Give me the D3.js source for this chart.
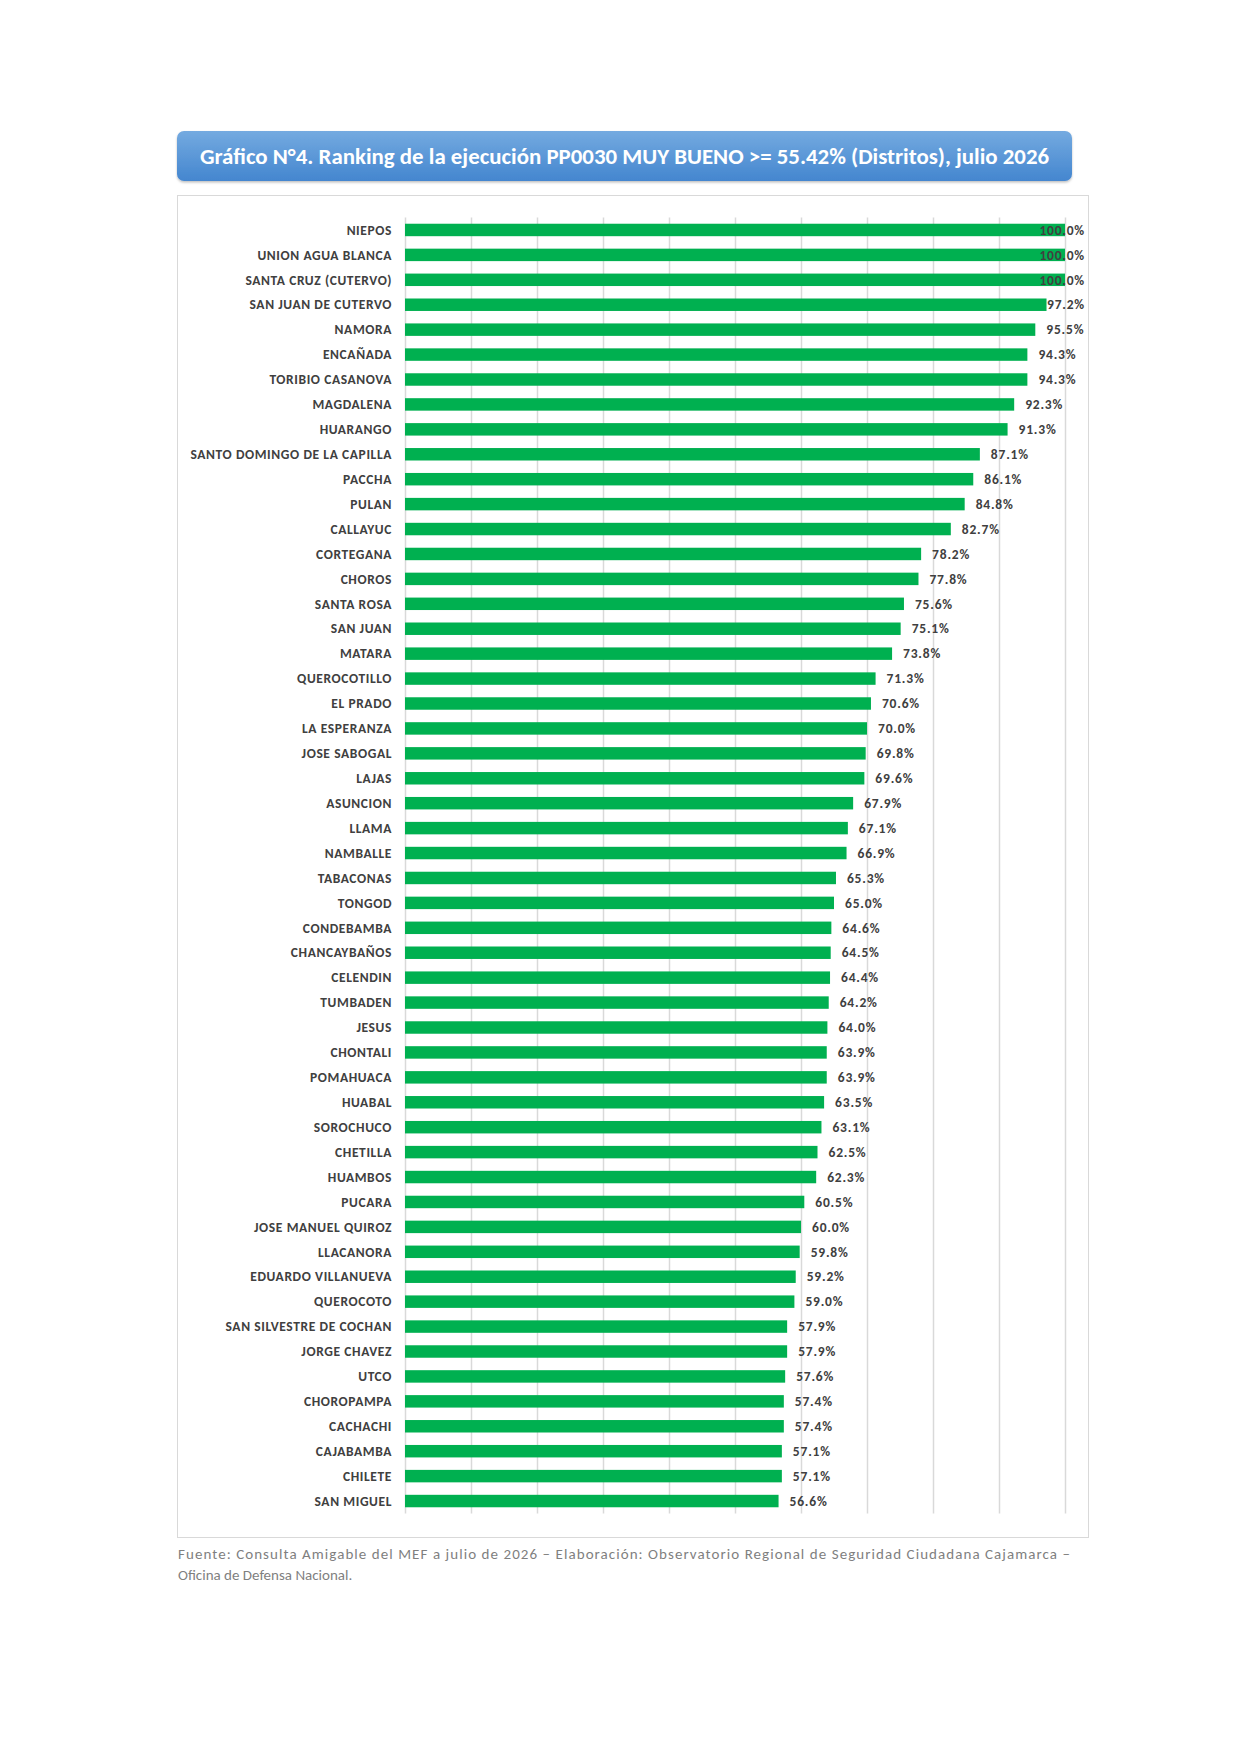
<!DOCTYPE html>
<html>
<head>
<meta charset="utf-8">
<script src="https://cdn.jsdelivr.net/npm/d3@7"></script>
<style>
  html, body { margin: 0; padding: 0; background: #fff; }
  svg { display: block; }
</style>
</head>
<body>
<div id="chart"></div>
<script>
// distritos, ordered as in the ranking
let districts = [
  'NIEPOS', 'UNION AGUA BLANCA', 'SANTA CRUZ (CUTERVO)', 'SAN JUAN DE CUTERVO', 'NAMORA',
  'ENCAÑADA', 'TORIBIO CASANOVA', 'MAGDALENA', 'HUARANGO', 'SANTO DOMINGO DE LA CAPILLA',
  'PACCHA', 'PULAN', 'CALLAYUC', 'CORTEGANA', 'CHOROS', 'SANTA ROSA', 'SAN JUAN', 'MATARA',
  'QUEROCOTILLO', 'EL PRADO', 'LA ESPERANZA', 'JOSE SABOGAL', 'LAJAS', 'ASUNCION', 'LLAMA',
  'NAMBALLE', 'TABACONAS', 'TONGOD', 'CONDEBAMBA', 'CHANCAYBAÑOS', 'CELENDIN', 'TUMBADEN',
  'JESUS', 'CHONTALI', 'POMAHUACA', 'HUABAL', 'SOROCHUCO', 'CHETILLA', 'HUAMBOS', 'PUCARA',
  'JOSE MANUEL QUIROZ', 'LLACANORA', 'EDUARDO VILLANUEVA', 'QUEROCOTO', 'SAN SILVESTRE DE COCHAN',
  'JORGE CHAVEZ', 'UTCO', 'CHOROPAMPA', 'CACHACHI', 'CAJABAMBA', 'CHILETE', 'SAN MIGUEL'
]
// % de ejecucion
let execution = [
  100.0, 100.0, 100.0, 97.2, 95.5,
  94.3, 94.3, 92.3, 91.3, 87.1,
  86.1, 84.8, 82.7, 78.2, 77.8, 75.6, 75.1, 73.8,
  71.3, 70.6, 70.0, 69.8, 69.6, 67.9, 67.1,
  66.9, 65.3, 65.0, 64.6, 64.5, 64.4, 64.2,
  64.0, 63.9, 63.9, 63.5, 63.1, 62.5, 62.3, 60.5,
  60.0, 59.8, 59.2, 59.0, 57.9,
  57.9, 57.6, 57.4, 57.4, 57.1, 57.1, 56.6
]
let gridTicks = [0, 10, 20, 30, 40, 50, 60, 70, 80, 90, 100]

let titleText = 'Gráfico N°4. Ranking de la ejecución PP0030 MUY BUENO >= 55.42% (Distritos), julio 2026'
let noteLines = [
  'Fuente: Consulta Amigable del MEF a julio de 2026 – Elaboración: Observatorio Regional de Seguridad Ciudadana Cajamarca –',
  'Oficina de Defensa Nacional.'
]

let data = districts.map((d, i) => ({ key: d, value: execution[i] }))

let w = 1240,
  h = 1754,
  font = 'Carlito, Calibri, Lato, sans-serif',
  green = '#00b050',
  txtColor = '#404040'

let svg = d3.select('#chart')
  .append('svg')
  .attr('width', w)
  .attr('height', h)

let defs = svg.append('defs')
let grad = defs.append('linearGradient')
  .attr('id', 'titleGrad')
  .attr('x1', 0).attr('y1', 0).attr('x2', 0).attr('y2', 1)
grad.append('stop').attr('offset', '0%').attr('stop-color', '#74aae0')
grad.append('stop').attr('offset', '100%').attr('stop-color', '#4486cf')
let shadow = defs.append('filter').attr('id', 'shadow')
  .attr('x', '-5%').attr('y', '-20%').attr('width', '110%').attr('height', '150%')
shadow.append('feDropShadow')
  .attr('dx', 0).attr('dy', 1.5).attr('stdDeviation', 1.2)
  .attr('flood-color', '#000').attr('flood-opacity', 0.25)

// title box
let box = { x: 177, y: 131, w: 895, h: 50 }
svg.append('rect')
  .attr('x', box.x).attr('y', box.y)
  .attr('width', box.w).attr('height', box.h)
  .attr('rx', 7).attr('ry', 7)
  .attr('fill', 'url(#titleGrad)')
  .attr('filter', 'url(#shadow)')
let title = svg.append('text')
  .attr('x', box.x + box.w / 2)
  .attr('y', box.y + box.h / 2)
  .attr('dy', '0.35em')
  .attr('text-anchor', 'middle')
  .attr('fill', '#fff')
  .style('font-family', font)
  .style('font-weight', 'bold')
  .style('font-size', '22px')
  .text(titleText)
// size it to the width it has in the reference
let tw = title.node().getComputedTextLength()
title.style('font-size', (22 * 850 / tw) + 'px')

// chart frame
let frame = { x: 177, y: 195, w: 911, h: 1342 }
svg.append('rect')
  .attr('x', frame.x + 0.5).attr('y', frame.y + 0.5)
  .attr('width', frame.w).attr('height', frame.h)
  .attr('fill', '#fff')
  .attr('stroke', '#d9d9d9')
  .attr('stroke-width', 1)

let x = d3.scaleLinear().domain([0, 100]).range([405, 1065])
let y = d3.scaleBand()
  .domain(districts)
  .range([217.5, 1513.5])
  .paddingInner(0.5)
  .paddingOuter(0.25)

// gridlines
svg.append('g')
  .selectAll('line')
  .data(gridTicks).enter().append('line')
  .attr('x1', d => Math.round(x(d)) + 0.5)
  .attr('x2', d => Math.round(x(d)) + 0.5)
  .attr('y1', y.range()[0])
  .attr('y2', y.range()[1])
  .attr('stroke', '#d9d9d9')
  .attr('stroke-width', 1.5)

// bars
svg.append('g')
  .selectAll('rect')
  .data(data).enter().append('rect')
  .attr('x', x(0))
  .attr('y', d => y(d.key))
  .attr('width', d => x(d.value) - x(0))
  .attr('height', y.bandwidth())
  .attr('fill', green)

// category labels
svg.append('g')
  .selectAll('text')
  .data(data).enter().append('text')
  .attr('x', 392)
  .attr('y', d => y(d.key) + y.bandwidth() / 2)
  .attr('dy', '0.35em')
  .attr('text-anchor', 'end')
  .attr('fill', txtColor)
  .style('font-family', font)
  .style('font-weight', 'bold')
  .style('font-size', '13.5px')
  .style('letter-spacing', '0.6px')
  .text(d => d.key)

// value labels, pushed back inside the chart area when they overflow
let labelRight = 1085
svg.append('g')
  .selectAll('text')
  .data(data).enter().append('text')
  .attr('y', d => y(d.key) + y.bandwidth() / 2)
  .attr('dy', '0.35em')
  .attr('fill', txtColor)
  .style('font-family', font)
  .style('font-weight', 'bold')
  .style('font-size', '13.5px')
  .style('letter-spacing', '0.8px')
  .text(d => d3.format('.1f')(d.value) + '%')
  .each(function (d) {
    let lw = this.getComputedTextLength()
    let lx = Math.min(x(d.value) + 11, labelRight - lw)
    d3.select(this).attr('x', lx)
  })

// footnote
let note = svg.append('g')
  .attr('fill', '#7f7f7f')
  .style('font-family', font)
  .style('font-size', '15px')
note.append('text')
  .attr('x', 178).attr('y', 1559)
  .attr('textLength', 892)
  .attr('lengthAdjust', 'spacing')
  .text(noteLines[0])
note.append('text')
  .attr('x', 178).attr('y', 1580)
  .text(noteLines[1])
</script>
</body>
</html>
